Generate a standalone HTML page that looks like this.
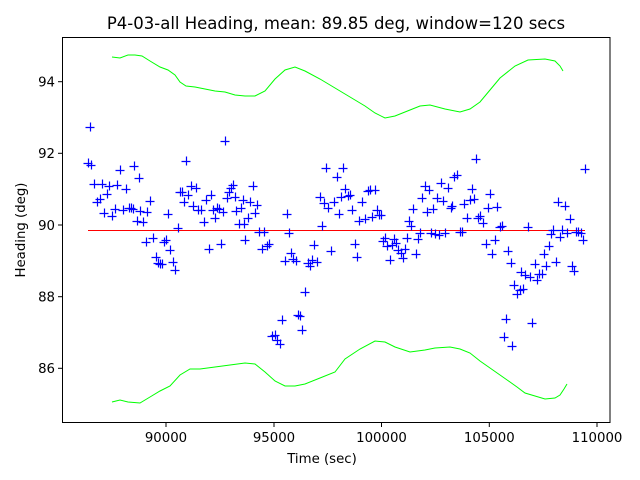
<!DOCTYPE html>
<html><head><meta charset="utf-8"><style>html,body{margin:0;padding:0;background:#fff}svg{display:block}</style></head><body>
<svg width="640" height="480" xmlns="http://www.w3.org/2000/svg" font-family="DejaVu Sans, Liberation Sans, sans-serif">
<rect width="640" height="480" fill="#fff"/>
<text x="336" y="29" font-size="16.5" text-anchor="middle" fill="#000">P4-03-all Heading, mean: 89.85 deg, window=120 secs</text>
<g stroke="#00ff00" stroke-width="1" fill="none">
<polyline points="112,57 120,58 128,55 135,55 142,56 150,61 160,67 168,70 175,75 180,82 186,86 195,87 205,89 215,91 225,92 235,95 245,96 255,96 265,91 275,79 285,70 295,67 305,71 320,79 335,88 350,97 365,106 375,113 385,118 395,116 410,110 420,106 430,105 445,109 460,112 470,109 480,102 490,90 500,78 515,66 528,60 545,59 555,61 560,66 563,71"/>
<polyline points="112,402 120,400 128,402 140,403 150,397 160,391 170,386 180,375 190,369 200,369 215,367 230,365 245,363 255,364 265,372 275,381 285,386 295,386 305,384 320,378 335,372 345,359 360,349 375,341 385,342 395,347 410,352 425,350 435,348 450,347 460,349 470,353 480,361 490,368 500,375 510,382 517,387 525,393 535,396 545,399 555,398 560,395 564,389 567,384"/>
</g>
<line x1="88" y1="230.5" x2="585" y2="230.5" stroke="#ff0000" stroke-width="1"/>
<g stroke="#0000ff" stroke-width="1.2" fill="none" id="pts"></g>
<rect x="62.5" y="37.5" width="547.5" height="385" fill="none" stroke="#000" stroke-width="1"/>
<g stroke="#000" stroke-width="1">
<line x1="166" y1="423" x2="166" y2="427"/><line x1="274" y1="423" x2="274" y2="427"/><line x1="381.5" y1="423" x2="381.5" y2="427"/><line x1="489.3" y1="423" x2="489.3" y2="427"/><line x1="597" y1="423" x2="597" y2="427"/>
<line x1="58" y1="81.7" x2="62.5" y2="81.7"/><line x1="58" y1="153.3" x2="62.5" y2="153.3"/><line x1="58" y1="225" x2="62.5" y2="225"/><line x1="58" y1="296.7" x2="62.5" y2="296.7"/><line x1="58" y1="368.3" x2="62.5" y2="368.3"/>
</g>
<g font-size="13.3" fill="#000" text-anchor="middle">
<text x="166" y="442">90000</text><text x="274" y="442">95000</text><text x="381.5" y="442">100000</text><text x="489.3" y="442">105000</text><text x="597" y="442">110000</text>
<text x="322" y="463">Time (sec)</text>
</g>
<g font-size="13.3" fill="#000" text-anchor="end">
<text x="55" y="86.5">94</text><text x="55" y="158">92</text><text x="55" y="230">90</text><text x="55" y="301.5">88</text><text x="55" y="373">86</text>
</g>
<text x="25" y="230" font-size="13.3" text-anchor="middle" transform="rotate(-90 25 230)">Heading (deg)</text>
<script>
var P=[[88,163],[90,127],[91,165],[94,184],[97,202],[100,199],[102,184],[104,213],[107,194],[109,186],[112,216],[115,209],[117,185],[120,170],[123,210],[126,189],[129,208],[131,208],[133,209],[134,166],[137,221],[139,178],[140,211],[143,222],[146,242],[147,212],[150,201],[153,238],[156,257],[158,263],[160,264],[162,264],[164,242],[166,240],[168,214],[170,250],[173,262],[175,270],[178,228],[180,192],[182,192],[184,202],[186,161],[188,195],[191,186],[193,206],[196,188],[198,210],[201,210],[204,222],[206,200],[209,249],[211,195],[213,210],[215,218],[217,208],[219,209],[221,244],[223,212],[225,141],[227,198],[229,192],[231,188],[233,185],[235,197],[236,211],[239,224],[241,208],[243,200],[244,224],[245,240],[248,218],[250,202],[253,186],[255,213],[257,205],[259,232],[262,249],[264,232],[267,246],[269,244],[272,336],[275,335],[277,340],[280,344],[282,320],[285,261],[287,214],[289,233],[291,253],[293,259],[296,261],[298,315],[300,316],[302,330],[305,292],[308,263],[310,266],[312,260],[314,245],[317,262],[320,197],[322,226],[324,203],[326,168],[328,208],[331,251],[334,202],[337,177],[339,214],[341,197],[343,168],[345,189],[348,196],[350,195],[352,210],[355,244],[357,257],[359,221],[362,202],[365,219],[368,191],[370,190],[372,217],[375,190],[377,210],[379,215],[381,215],[383,241],[385,238],[387,246],[390,260],[392,245],[394,239],[396,243],[398,250],[401,253],[403,258],[405,249],[407,238],[409,221],[411,226],[413,209],[416,254],[418,239],[420,233],[422,198],[425,186],[427,212],[429,190],[431,233],[433,209],[435,234],[437,198],[439,235],[441,183],[443,201],[445,233],[448,188],[451,208],[452,206],[454,177],[457,175],[460,232],[462,232],[464,204],[467,218],[470,200],[472,189],[474,199],[476,159],[478,218],[480,216],[483,223],[486,244],[488,208],[490,194],[492,254],[495,240],[497,207],[500,227],[502,226],[504,337],[506,319],[508,251],[511,263],[512,346],[514,285],[517,294],[520,290],[521,272],[523,289],[525,275],[528,227],[530,277],[532,323],[535,264],[537,280],[539,274],[542,274],[544,254],[546,266],[549,246],[551,234],[553,230],[556,262],[558,202],[560,237],[562,230],[565,206],[567,233],[570,219],[572,266],[574,271],[576,232],[578,232],[581,233],[583,240],[585,169]];
var g=document.getElementById("pts");
P.forEach(function(p){var e=document.createElementNS("http://www.w3.org/2000/svg","path");e.setAttribute("d","M"+(p[0]-4.5)+" "+(p[1]+0.5)+"h9M"+(p[0]+0.5)+" "+(p[1]-4.5)+"v9");g.appendChild(e);});
</script>
</svg>
</body></html>
